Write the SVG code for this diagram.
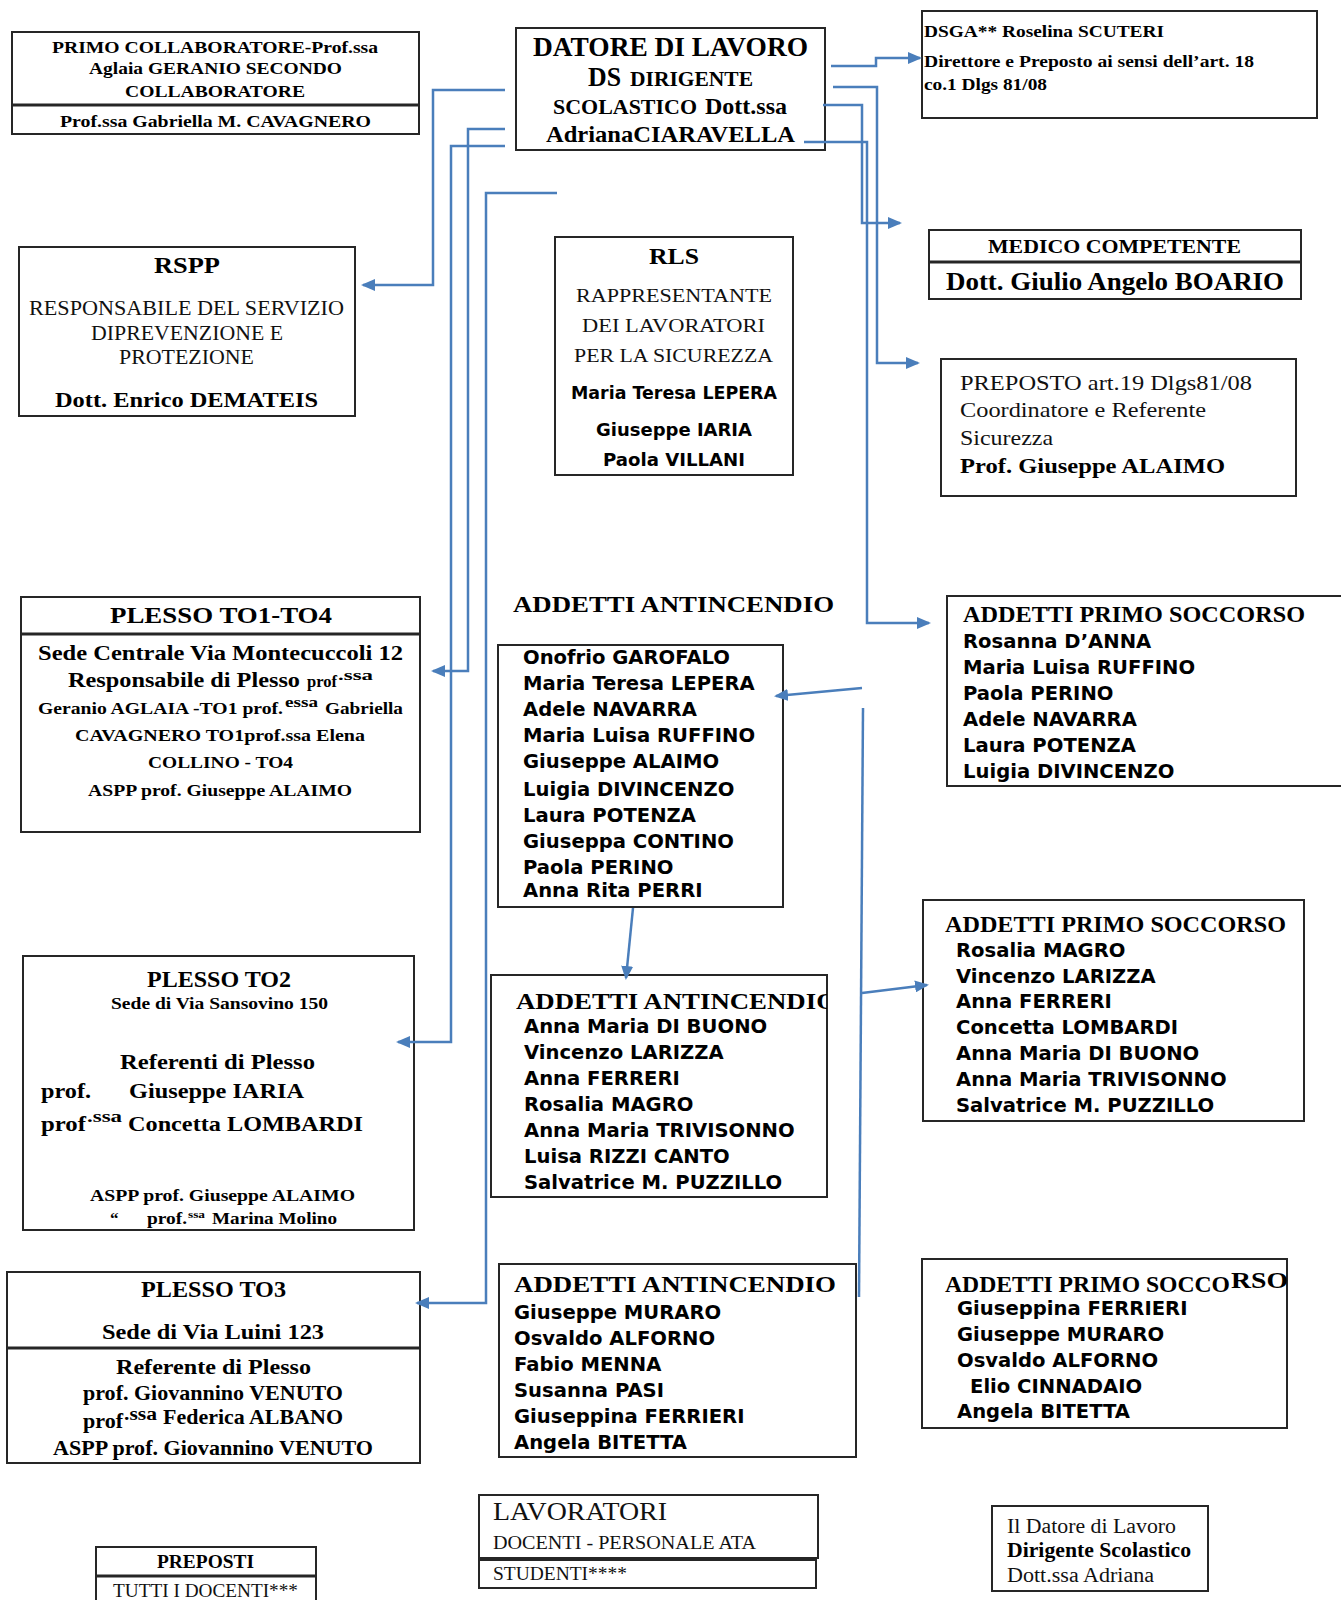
<svg xmlns="http://www.w3.org/2000/svg" width="1341" height="1600" viewBox="0 0 1341 1600">
<style>
.box{fill:#fff;stroke:#262626;stroke-width:2}
.div{stroke:#262626;stroke-width:3}
.sb{font-family:"Liberation Serif","Times New Roman",serif;font-weight:bold;fill:#000}
.sr{font-family:"Liberation Serif","Times New Roman",serif;font-weight:normal;fill:#111}
.vb{font-family:"DejaVu Sans",Verdana,sans-serif;font-weight:bold;fill:#000}
.conn{fill:none;stroke:#4a7ebb;stroke-width:2.5}
.arr{marker-end:url(#ah)}
</style>
<defs>
<marker id="ah" markerUnits="userSpaceOnUse" markerWidth="14" markerHeight="12" refX="12" refY="6" orient="auto">
<path d="M0,0 L14,6 L0,12 z" fill="#4a7ebb"/>
</marker>
<clipPath id="clipAI2"><rect x="491" y="975" width="336" height="222"/></clipPath>
</defs>
<rect width="1341" height="1600" fill="#fff"/>

<g id="primo-collaboratore">
<rect class="box" x="12" y="32" width="407" height="102"/>
<line class="div" x1="12" y1="105" x2="419" y2="105"/>
<text class="sb" x="52" y="53" font-size="17" textLength="326" lengthAdjust="spacingAndGlyphs">PRIMO COLLABORATORE-Prof.ssa</text>
<text class="sb" x="89" y="74" font-size="17" textLength="253" lengthAdjust="spacingAndGlyphs">Aglaia GERANIO SECONDO</text>
<text class="sb" x="125" y="97" font-size="17" textLength="180" lengthAdjust="spacingAndGlyphs">COLLABORATORE</text>
<text class="sb" x="60" y="127" font-size="17" textLength="311" lengthAdjust="spacingAndGlyphs">Prof.ssa Gabriella M. CAVAGNERO</text>
</g>

<g id="datore">
<rect class="box" x="516" y="28" width="309" height="122"/>
<text class="sb" x="533" y="56" font-size="27" textLength="275" lengthAdjust="spacingAndGlyphs">DATORE DI LAVORO</text>
<text class="sb" x="588" y="86" font-size="27" textLength="33" lengthAdjust="spacingAndGlyphs">DS</text>
<text class="sb" x="630" y="86" font-size="21" textLength="123" lengthAdjust="spacingAndGlyphs">DIRIGENTE</text>
<text class="sb" x="553" y="114" font-size="21" textLength="144" lengthAdjust="spacingAndGlyphs">SCOLASTICO</text>
<text class="sb" x="705" y="114" font-size="24" textLength="82" lengthAdjust="spacingAndGlyphs">Dott.ssa</text>
<text class="sb" x="546" y="142" font-size="24" textLength="249" lengthAdjust="spacingAndGlyphs">AdrianaCIARAVELLA</text>
</g>

<g id="dsga">
<rect class="box" x="922" y="11" width="395" height="107"/>
<text class="sb" x="924" y="37" font-size="17" textLength="240" lengthAdjust="spacingAndGlyphs">DSGA** Roselina SCUTERI</text>
<text class="sb" x="924" y="67" font-size="17" textLength="330" lengthAdjust="spacingAndGlyphs">Direttore e Preposto ai sensi dell’art. 18</text>
<text class="sb" x="924" y="90" font-size="17" textLength="123" lengthAdjust="spacingAndGlyphs">co.1 Dlgs 81/08</text>
</g>

<g id="rspp">
<rect class="box" x="19" y="247" width="336" height="169"/>
<text class="sb" x="154" y="273" font-size="23" textLength="66" lengthAdjust="spacingAndGlyphs">RSPP</text>
<text class="sr" x="29" y="315" font-size="20" textLength="315" lengthAdjust="spacingAndGlyphs">RESPONSABILE DEL SERVIZIO</text>
<text class="sr" x="91" y="340" font-size="20" textLength="192" lengthAdjust="spacingAndGlyphs">DIPREVENZIONE E</text>
<text class="sr" x="119" y="364" font-size="20" textLength="135" lengthAdjust="spacingAndGlyphs">PROTEZIONE</text>
<text class="sb" x="55" y="407" font-size="22" textLength="263" lengthAdjust="spacingAndGlyphs">Dott. Enrico DEMATEIS</text>
</g>

<g id="rls">
<rect class="box" x="555" y="237" width="238" height="238"/>
<text class="sb" x="649" y="264" font-size="23" textLength="50" lengthAdjust="spacingAndGlyphs">RLS</text>
<text class="sr" x="576" y="302" font-size="19" textLength="196" lengthAdjust="spacingAndGlyphs">RAPPRESENTANTE</text>
<text class="sr" x="582" y="332" font-size="19" textLength="183" lengthAdjust="spacingAndGlyphs">DEI LAVORATORI</text>
<text class="sr" x="574" y="362" font-size="19" textLength="199" lengthAdjust="spacingAndGlyphs">PER LA SICUREZZA</text>
<text class="vb" x="571" y="399" font-size="17" textLength="206" lengthAdjust="spacingAndGlyphs">Maria Teresa LEPERA</text>
<text class="vb" x="596" y="436" font-size="17" textLength="156" lengthAdjust="spacingAndGlyphs">Giuseppe IARIA</text>
<text class="vb" x="603" y="466" font-size="17" textLength="142" lengthAdjust="spacingAndGlyphs">Paola VILLANI</text>
</g>

<g id="medico">
<rect class="box" x="929" y="230" width="372" height="69"/>
<line class="div" x1="929" y1="262" x2="1301" y2="262"/>
<text class="sb" x="988" y="253" font-size="18" textLength="253" lengthAdjust="spacingAndGlyphs">MEDICO COMPETENTE</text>
<text class="sb" x="946" y="290" font-size="25" textLength="338" lengthAdjust="spacingAndGlyphs">Dott. Giulio Angelo BOARIO</text>
</g>

<g id="preposto">
<rect class="box" x="941" y="359" width="355" height="137"/>
<text class="sr" x="960" y="390" font-size="22" textLength="292" lengthAdjust="spacingAndGlyphs">PREPOSTO art.19 Dlgs81/08</text>
<text class="sr" x="960" y="417" font-size="22" textLength="246" lengthAdjust="spacingAndGlyphs">Coordinatore e Referente</text>
<text class="sr" x="960" y="445" font-size="22" textLength="93" lengthAdjust="spacingAndGlyphs">Sicurezza</text>
<text class="sb" x="960" y="473" font-size="22" textLength="265" lengthAdjust="spacingAndGlyphs">Prof. Giuseppe ALAIMO</text>
</g>

<g id="plesso-to1-to4">
<rect class="box" x="21" y="597" width="399" height="235"/>
<line class="div" x1="21" y1="634" x2="420" y2="634"/>
<text class="sb" x="110" y="623" font-size="23" textLength="222" lengthAdjust="spacingAndGlyphs">PLESSO TO1-TO4</text>
<text class="sb" x="38" y="660" font-size="21" textLength="365" lengthAdjust="spacingAndGlyphs">Sede Centrale Via Montecuccoli 12</text>
<text class="sb" x="68" y="687" font-size="21" textLength="232" lengthAdjust="spacingAndGlyphs">Responsabile di Plesso</text>
<text class="sb" x="307" y="687" font-size="17" textLength="30" lengthAdjust="spacingAndGlyphs">prof</text>
<text class="sb" x="338" y="680" font-size="14" textLength="35" lengthAdjust="spacingAndGlyphs">.ssa</text>
<text class="sb" x="38" y="714" font-size="17" textLength="245" lengthAdjust="spacingAndGlyphs">Geranio AGLAIA -TO1 prof.</text>
<text class="sb" x="285" y="707" font-size="14" textLength="33" lengthAdjust="spacingAndGlyphs">essa</text>
<text class="sb" x="325" y="714" font-size="17" textLength="78" lengthAdjust="spacingAndGlyphs">Gabriella</text>
<text class="sb" x="75" y="741" font-size="17" textLength="290" lengthAdjust="spacingAndGlyphs">CAVAGNERO TO1prof.ssa Elena</text>
<text class="sb" x="148" y="768" font-size="17" textLength="145" lengthAdjust="spacingAndGlyphs">COLLINO - TO4</text>
<text class="sb" x="88" y="796" font-size="17" textLength="264" lengthAdjust="spacingAndGlyphs">ASPP prof. Giuseppe ALAIMO</text>
</g>

<g id="plesso-to2">
<rect class="box" x="23" y="956" width="391" height="274"/>
<text class="sb" x="147" y="987" font-size="23" textLength="144" lengthAdjust="spacingAndGlyphs">PLESSO TO2</text>
<text class="sb" x="111" y="1009" font-size="17" textLength="217" lengthAdjust="spacingAndGlyphs">Sede di Via Sansovino 150</text>
<text class="sb" x="120" y="1069" font-size="22" textLength="195" lengthAdjust="spacingAndGlyphs">Referenti di Plesso</text>
<text class="sb" x="41" y="1098" font-size="22" textLength="50" lengthAdjust="spacingAndGlyphs">prof.</text>
<text class="sb" x="129" y="1098" font-size="22" textLength="175" lengthAdjust="spacingAndGlyphs">Giuseppe IARIA</text>
<text class="sb" x="41" y="1131" font-size="22" textLength="45" lengthAdjust="spacingAndGlyphs">prof</text>
<text class="sb" x="87" y="1122" font-size="16" textLength="35" lengthAdjust="spacingAndGlyphs">.ssa</text>
<text class="sb" x="128" y="1131" font-size="22" textLength="235" lengthAdjust="spacingAndGlyphs">Concetta LOMBARDI</text>
<text class="sb" x="90" y="1201" font-size="17" textLength="265" lengthAdjust="spacingAndGlyphs">ASPP prof. Giuseppe ALAIMO</text>
<text class="sb" x="110" y="1224" font-size="17">“</text>
<text class="sb" x="147" y="1224" font-size="17" textLength="40" lengthAdjust="spacingAndGlyphs">prof.</text>
<text class="sb" x="188" y="1218" font-size="10" textLength="17" lengthAdjust="spacingAndGlyphs">ssa</text>
<text class="sb" x="212" y="1224" font-size="17" textLength="125" lengthAdjust="spacingAndGlyphs">Marina Molino</text>
</g>

<g id="plesso-to3">
<rect class="box" x="7" y="1272" width="413" height="191"/>
<line class="div" x1="7" y1="1348" x2="420" y2="1348"/>
<text class="sb" x="141" y="1297" font-size="23" textLength="145" lengthAdjust="spacingAndGlyphs">PLESSO TO3</text>
<text class="sb" x="102" y="1339" font-size="22" textLength="222" lengthAdjust="spacingAndGlyphs">Sede di Via Luini 123</text>
<text class="sb" x="116" y="1374" font-size="22" textLength="195" lengthAdjust="spacingAndGlyphs">Referente di Plesso</text>
<text class="sb" x="83" y="1400" font-size="22" textLength="260" lengthAdjust="spacingAndGlyphs">prof. Giovannino VENUTO</text>
<text class="sb" x="83" y="1428" font-size="22" textLength="40" lengthAdjust="spacingAndGlyphs">prof</text>
<text class="sb" x="124" y="1420" font-size="18" textLength="33" lengthAdjust="spacingAndGlyphs">.ssa</text>
<text class="sb" x="163" y="1424" font-size="22" textLength="180" lengthAdjust="spacingAndGlyphs">Federica ALBANO</text>
<text class="sb" x="53" y="1455" font-size="22" textLength="320" lengthAdjust="spacingAndGlyphs">ASPP prof. Giovannino VENUTO</text>
</g>

<g id="antincendio-title">
<text class="sb" x="513" y="612" font-size="24" textLength="321" lengthAdjust="spacingAndGlyphs">ADDETTI ANTINCENDIO</text>
</g>

<g id="antincendio-1">
<rect class="box" x="498" y="645" width="285" height="262"/>
<g class="vb" font-size="19.6">
<text x="523" y="664">Onofrio GAROFALO</text>
<text x="523" y="690">Maria Teresa LEPERA</text>
<text x="523" y="716">Adele NAVARRA</text>
<text x="523" y="742">Maria Luisa RUFFINO</text>
<text x="523" y="768">Giuseppe ALAIMO</text>
<text x="523" y="796">Luigia DIVINCENZO</text>
<text x="523" y="822">Laura POTENZA</text>
<text x="523" y="848">Giuseppa CONTINO</text>
<text x="523" y="874">Paola PERINO</text>
<text x="523" y="897">Anna Rita PERRI</text>
</g>
</g>

<g id="antincendio-2">
<rect class="box" x="491" y="975" width="336" height="222"/>
<text class="sb" x="516" y="1009" font-size="24" textLength="321" lengthAdjust="spacingAndGlyphs" clip-path="url(#clipAI2)">ADDETTI ANTINCENDIO</text>
<g class="vb" font-size="19.6">
<text x="524" y="1033">Anna Maria DI BUONO</text>
<text x="524" y="1059">Vincenzo LARIZZA</text>
<text x="524" y="1085">Anna FERRERI</text>
<text x="524" y="1111">Rosalia MAGRO</text>
<text x="524" y="1137">Anna Maria TRIVISONNO</text>
<text x="524" y="1163">Luisa RIZZI CANTO</text>
<text x="524" y="1189">Salvatrice M. PUZZILLO</text>
</g>
</g>

<g id="antincendio-3">
<rect class="box" x="499" y="1264" width="357" height="193"/>
<text class="sb" x="514" y="1292" font-size="24" textLength="322" lengthAdjust="spacingAndGlyphs">ADDETTI ANTINCENDIO</text>
<g class="vb" font-size="19.6">
<text x="514" y="1319">Giuseppe MURARO</text>
<text x="514" y="1345">Osvaldo ALFORNO</text>
<text x="514" y="1371">Fabio MENNA</text>
<text x="514" y="1397">Susanna PASI</text>
<text x="514" y="1423">Giuseppina FERRIERI</text>
<text x="514" y="1449">Angela BITETTA</text>
</g>
</g>

<g id="primo-soccorso-1">
<rect class="box" x="947" y="596" width="400" height="190"/>
<text class="sb" x="963" y="622" font-size="24" textLength="342" lengthAdjust="spacingAndGlyphs">ADDETTI PRIMO SOCCORSO</text>
<g class="vb" font-size="19.6">
<text x="963" y="648">Rosanna D’ANNA</text>
<text x="963" y="674">Maria Luisa RUFFINO</text>
<text x="963" y="700">Paola PERINO</text>
<text x="963" y="726">Adele NAVARRA</text>
<text x="963" y="752">Laura POTENZA</text>
<text x="963" y="778">Luigia DIVINCENZO</text>
</g>
</g>

<g id="primo-soccorso-2">
<rect class="box" x="923" y="900" width="381" height="221"/>
<text class="sb" x="945" y="932" font-size="24" textLength="341" lengthAdjust="spacingAndGlyphs">ADDETTI PRIMO SOCCORSO</text>
<g class="vb" font-size="19.6">
<text x="956" y="957">Rosalia MAGRO</text>
<text x="956" y="983">Vincenzo LARIZZA</text>
<text x="956" y="1008">Anna FERRERI</text>
<text x="956" y="1034">Concetta LOMBARDI</text>
<text x="956" y="1060">Anna Maria DI BUONO</text>
<text x="956" y="1086">Anna Maria TRIVISONNO</text>
<text x="956" y="1112">Salvatrice M. PUZZILLO</text>
</g>
</g>

<g id="primo-soccorso-3">
<rect class="box" x="922" y="1259" width="365" height="169"/>
<text class="sb" x="945" y="1292" font-size="24" textLength="285" lengthAdjust="spacingAndGlyphs">ADDETTI PRIMO SOCCO</text>
<text class="sb" x="1231" y="1288" font-size="24" textLength="57" lengthAdjust="spacingAndGlyphs">RSO</text>
<g class="vb" font-size="19.6">
<text x="957" y="1315">Giuseppina FERRIERI</text>
<text x="957" y="1341">Giuseppe MURARO</text>
<text x="957" y="1367">Osvaldo ALFORNO</text>
<text x="970" y="1393">Elio CINNADAIO</text>
<text x="957" y="1418">Angela BITETTA</text>
</g>
</g>

<g id="preposti">
<rect class="box" x="96" y="1547" width="220" height="60"/>
<line class="div" x1="96" y1="1576" x2="316" y2="1576"/>
<text class="sb" x="157" y="1568" font-size="18" textLength="97" lengthAdjust="spacingAndGlyphs">PREPOSTI</text>
<text class="sr" x="113" y="1597" font-size="18" textLength="185" lengthAdjust="spacingAndGlyphs">TUTTI I DOCENTI***</text>
</g>

<g id="lavoratori">
<rect class="box" x="479" y="1495" width="339" height="63"/>
<rect class="box" x="479" y="1560" width="337" height="28"/>
<text class="sr" x="493" y="1520" font-size="26" textLength="174" lengthAdjust="spacingAndGlyphs">LAVORATORI</text>
<text class="sr" x="493" y="1549" font-size="18" textLength="263" lengthAdjust="spacingAndGlyphs">DOCENTI - PERSONALE ATA</text>
<text class="sr" x="493" y="1580" font-size="18" textLength="134" lengthAdjust="spacingAndGlyphs">STUDENTI****</text>
</g>

<g id="firma-datore">
<rect class="box" x="992" y="1506" width="216" height="85"/>
<text class="sr" x="1007" y="1533" font-size="20" textLength="169" lengthAdjust="spacingAndGlyphs">Il Datore di Lavoro</text>
<text class="sb" x="1007" y="1557" font-size="20" textLength="184" lengthAdjust="spacingAndGlyphs">Dirigente Scolastico</text>
<text class="sr" x="1007" y="1582" font-size="20" textLength="147" lengthAdjust="spacingAndGlyphs">Dott.ssa Adriana</text>
</g>

<g id="connectors">
<polyline class="conn arr" points="505,90 433,90 433,285 363,285"/>
<polyline class="conn arr" points="505,129 468,129 468,671 433,671"/>
<polyline class="conn arr" points="505,146 451,146 451,1042 398,1042"/>
<polyline class="conn arr" points="557,193 486,193 486,1303 417,1303"/>
<polyline class="conn arr" points="831,66 876,66 876,58 920,58"/>
<polyline class="conn arr" points="833,87 877,87 877,363 918,363"/>
<polyline class="conn arr" points="823,105 862,105 862,223 900,223"/>
<polyline class="conn arr" points="804,142 867,142 867,623 929,623"/>
<line class="conn arr" x1="862" y1="688" x2="776" y2="696"/>
<line class="conn arr" x1="633" y1="908" x2="626" y2="978"/>
<line class="conn" x1="863" y1="708" x2="859" y2="1297"/>
<line class="conn arr" x1="862" y1="993" x2="927" y2="985"/>
</g>
</svg>
